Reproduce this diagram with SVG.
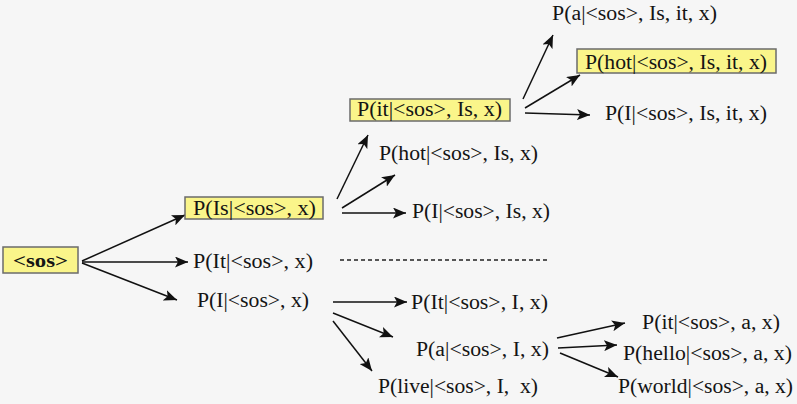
<svg xmlns="http://www.w3.org/2000/svg" width="797" height="404" viewBox="0 0 797 404">
<defs>
<marker id="ah" markerUnits="userSpaceOnUse" markerWidth="13" markerHeight="11" viewBox="0 0 13 11" refX="13" refY="5.5" orient="auto">
<path d="M0,0 L13,5.5 L0,11 L3,5.5 z" fill="#111"/>
</marker>
<style>
.bg{fill:#f6f6f6}
.box{fill:#faf58a;stroke:#6b6b6b;stroke-width:1.5}
.t{font-family:"Liberation Serif","Times New Roman",serif;font-size:20px;fill:#141414}
.b{font-family:"Liberation Serif","Times New Roman",serif;font-size:19px;font-weight:bold;fill:#141414}
.c path{fill:none;stroke:#111;stroke-width:1.5;marker-end:url(#ah)}
.d{fill:none;stroke:#222;stroke-width:1.4;stroke-dasharray:4 3}
</style>
</defs>
<rect class="bg" x="0" y="0" width="797" height="404"/>
<g id="connectors" class="c">
<path d="M82,261 L185,215"/>
<path d="M82,262 L188,262"/>
<path d="M82,263 L177,300"/>
<path d="M337,199 L368,135"/>
<path d="M342,208 L395,175"/>
<path d="M342,213 L406,213"/>
<path d="M523,99 L553,35"/>
<path d="M525,108 L580,75"/>
<path d="M525,113 L590,115"/>
<path d="M333,302 L407,302"/>
<path d="M333,313 L393,337"/>
<path d="M333,321 L372,371"/>
<path d="M557,338 L625,323"/>
<path d="M558,348 L617,345"/>
<path d="M560,353 L618,377"/>
</g>
<line id="separator" class="d" x1="340" y1="260" x2="548" y2="260"/>
<g id="n-sos"><rect class="box" x="3" y="247" width="75" height="26"/><text class="b" x="13" y="267" textLength="55" lengthAdjust="spacingAndGlyphs">&lt;sos&gt;</text></g>
<g id="n-Is"><rect class="box" x="185" y="197" width="138" height="22"/><text class="t" x="193" y="215" textLength="123" lengthAdjust="spacingAndGlyphs">P(Is|&lt;sos&gt;, x)</text></g>
<g id="n-It"><text class="t" x="193" y="268" textLength="120" lengthAdjust="spacingAndGlyphs">P(It|&lt;sos&gt;, x)</text></g>
<g id="n-I"><text class="t" x="197" y="307" textLength="112" lengthAdjust="spacingAndGlyphs">P(I|&lt;sos&gt;, x)</text></g>
<g id="n-Is-it"><rect class="box" x="350" y="99" width="160" height="22"/><text class="t" x="357" y="116" textLength="145" lengthAdjust="spacingAndGlyphs">P(it|&lt;sos&gt;, Is, x)</text></g>
<g id="n-Is-hot"><text class="t" x="379" y="160" textLength="159" lengthAdjust="spacingAndGlyphs">P(hot|&lt;sos&gt;, Is, x)</text></g>
<g id="n-Is-I"><text class="t" x="412" y="218" textLength="138" lengthAdjust="spacingAndGlyphs">P(I|&lt;sos&gt;, Is, x)</text></g>
<g id="n-it-a"><text class="t" x="552" y="20" textLength="165" lengthAdjust="spacingAndGlyphs">P(a|&lt;sos&gt;, Is, it, x)</text></g>
<g id="n-it-hot"><rect class="box" x="577" y="49" width="199" height="24"/><text class="t" x="585" y="69" textLength="182" lengthAdjust="spacingAndGlyphs">P(hot|&lt;sos&gt;, Is, it, x)</text></g>
<g id="n-it-I"><text class="t" x="605" y="120" textLength="162" lengthAdjust="spacingAndGlyphs">P(I|&lt;sos&gt;, Is, it, x)</text></g>
<g id="n-I-It"><text class="t" x="411" y="309" textLength="137" lengthAdjust="spacingAndGlyphs">P(It|&lt;sos&gt;, I, x)</text></g>
<g id="n-I-a"><text class="t" x="416" y="356" textLength="133" lengthAdjust="spacingAndGlyphs">P(a|&lt;sos&gt;, I, x)</text></g>
<g id="n-I-live"><text class="t" x="378" y="393" textLength="160" lengthAdjust="spacingAndGlyphs" xml:space="preserve">P(live|&lt;sos&gt;, I,  x)</text></g>
<g id="n-a-it"><text class="t" x="642" y="329" textLength="138" lengthAdjust="spacingAndGlyphs">P(it|&lt;sos&gt;, a, x)</text></g>
<g id="n-a-hello"><text class="t" x="623" y="360" textLength="169" lengthAdjust="spacingAndGlyphs">P(hello|&lt;sos&gt;, a, x)</text></g>
<g id="n-a-world"><text class="t" x="618" y="393" textLength="175" lengthAdjust="spacingAndGlyphs">P(world|&lt;sos&gt;, a, x)</text></g>
</svg>
